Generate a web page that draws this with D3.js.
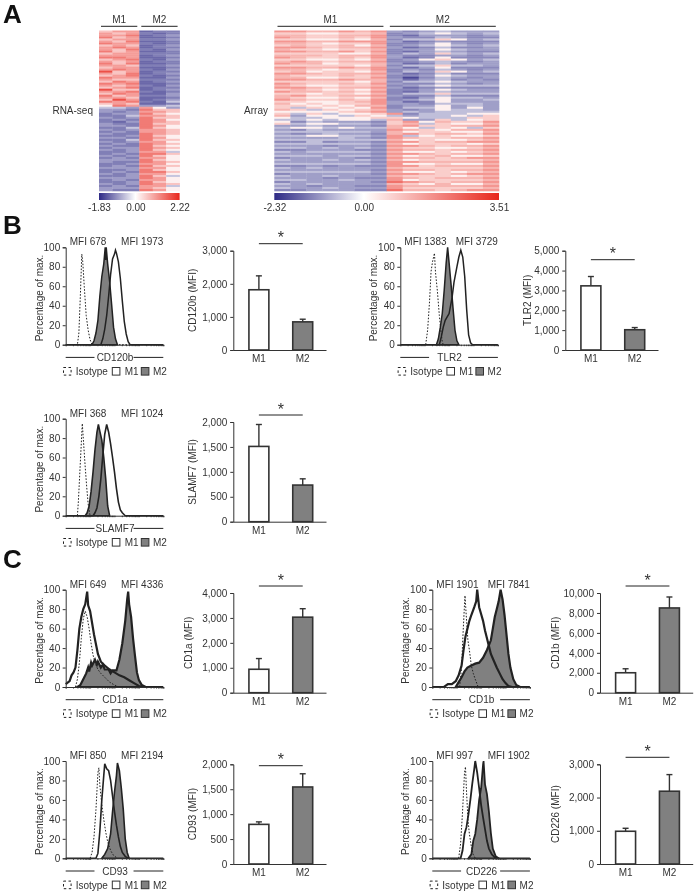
<!DOCTYPE html>
<html>
<head>
<meta charset="utf-8">
<script src="https://cdn.jsdelivr.net/npm/d3@7"></script>
<style>
  body { margin: 0; background: #fff; }
  svg { display: block; filter: blur(0.35px); }
  text { font-family: "Liberation Sans", Arial, sans-serif; font-size: 10px; fill: #333; }
</style>
</head>
<body>
<div class="canvas"></div>
<script>
// heatmap rows, one digit per sample (M1 then M2), digit = index in the levels array
const rnaLevels = [-1.6, -1.3, -1.1, -0.85, -0.5, 0.15, 0.6, 1.0, 1.35, 1.8];
const rnaRows = [
  "677122","767212","778123","867112","677223","768112","877212","676123","787122","768213",
  "867112","677222","777123","887112","678213","767122","868112","776223","677112","787213",
  "967122","768123","678212","877113","766222","687123","878112","767213","678122","966123",
  "778212","687113","867223","776112","697123","878214","676112","587334",
  "443753","332866","323776","233865","224776","323866","232875","213876","322866","332875",
  "224865","323776","232776","322876","223865","332875","224866","323775","232876","322865",
  "233876","323865","223774","232886","323865","232775","333865","322876","223775","232866",
  "333775","223865","232886","323775","223864","333875","232775","223865","323876","232774",
  "333765","322875"
];
const arrayLevels = [-2.0, -1.6, -1.3, -1.05, -0.7, 0.25, 0.8, 1.2, 1.7, 2.3];
const arrayRows = [
  "88778783234333","66556672345434","77667782133323","87667683224322","66556572446534","88778883123222",
  "77656682235323","67667572345434","88767783124223","76656672335433","88778682134322","66665572436434",
  "77767783223323","87667683125222","66556572356534","78767782234323","87756673124233","66666572446443",
  "88778783135222","77656682324323","67566572436534","88767783124222","76667672235433","77556682024323",
  "88778773134232","66666572445433","87667683224323","76556672345444","88767783123222","67656572235433",
  "87767682134333","66566572446444","78667783224222","76556572135443","87667682345334","66556783125333",
  "75656683324443","66565772335343","64656582445353","76465673235443","55556783434444","64645568244455",
  "73554654344546","54455566544466",
  "44545547336456","52433326857668","64554436746557","33433327866778","45545447546546","32433338765778",
  "44444437566557","32343327867768","44554438456556","33334328766778","44444447565567","22423328867788",
  "44444437566656","33323328876778","44343437665567","22333228776778","43444437556567","33333328876778",
  "44434437567556","23333228776788","43343437566667","33333328877778","44444438556557","22323228867778",
  "43433337666667","33333328776778","44444437556567","23333328876788","43343337666567","33323228767778",
  "44334338566667","23333329876778","43433337657557","33233228777778","43343338666667","22333229776788"
];
const rnaScaleTicks = [-1.83, 0, 2.22];
const arrayScaleTicks = [-2.32, 0, 3.51];

// bars
const groups = ['M1', 'M2'];
const cd120bMeans = [1820, 850],  cd120bTops = [2240, 930];
const tlr2Means = [3230, 1020],   tlr2Tops = [3700, 1130];
const slamf7Means = [1510, 735],  slamf7Tops = [1950, 860];
const cd1aMeans = [940, 3030],    cd1aTops = [1370, 3370];
const cd1bMeans = [2000, 8500],   cd1bTops = [2400, 9600];
const cd93Means = [795, 1545],    cd93Tops = [845, 1810];
const cd226Means = [985, 2190],   cd226Tops = [1075, 2690];
const cd120bTicks = [0, 1000, 2000, 3000];
const tlr2Ticks = [0, 1000, 2000, 3000, 4000, 5000];
const slamf7Ticks = [0, 500, 1000, 1500, 2000];
const cd1aTicks = [0, 1000, 2000, 3000, 4000];
const cd1bTicks = [0, 2000, 4000, 6000, 8000, 10000];
const cd93Ticks = [0, 500, 1000, 1500, 2000];
const cd226Ticks = [0, 1000, 2000, 3000];

// histogram traces, [channel, % of max]
const histTicks = [0,7.5,12,15,17.5,19.5,21,22.5,23.8,25,32.5,37,40,42.5,44.5,46,47.5,48.8,50,57.5,62,65,67.5,69.5,71,72.5,73.8,75,82.5,87,90,92.5,94.5,96,97.5,98.8,100];
const percentTicks = [0, 20, 40, 60, 80, 100];

const cd120bIso = [[0,0],[12,0],[13.5,12],[15,50],[16.5,93],[17.5,85],[19,60],[21,30],[23,15],[25,5],[27,0],[100,0]];
const cd120bM2 = [[27,0],[29,4],[31,12],[33,25],[35,50],[37,70],[39,83],[40.5,100],[41,87],[41.5,100],[43,83],[45,65],[47,42],[49,18],[51,6],[53,0]];
const cd120bM1 = [[0,0],[36,0],[38,6],[40,16],[42,30],[44,50],[46,72],[48,88],[50,93],[51,97],[52,94],[54,85],[56,68],[58,45],[60,24],[62,11],[64,3],[66,0],[100,0]];

const tlr2Iso = [[26,0],[28,15],[30,45],[31.5,75],[33,85],[35,94],[36,75],[38,55],[40,30],[41.5,15],[43,3],[44,0]];
const tlr2M2 = [[37,0],[39,6],[41,18],[43,32],[45,56],[47,84],[48.5,100],[50,84],[52,62],[54,38],[56,15],[58,4],[60,0]];
const tlr2M1 = [[0,0],[40,0],[42,8],[44,18],[46,25],[50,32],[53,48],[55,64],[58,80],[60,90],[62,97],[64,90],[66,70],[68,36],[70,10],[72,2],[74,0],[100,0]];

const slamf7Iso = [[12,0],[13,15],[14.5,45],[16,75],[17,95],[18,80],[20,50],[21.5,30],[23,12],[25,0]];
const slamf7M2 = [[20,0],[22,3],[24,10],[26,25],[28,45],[30,68],[32,86],[33.5,94],[35,87],[37,78],[39,60],[41,38],[43,10],[45,0]];
const slamf7M1 = [[0,0],[28,0],[30,3],[32,8],[34,20],[36,38],[38,62],[40,84],[42,94],[44,86],[46,74],[48,60],[50,45],[52,28],[54,14],[56,6],[58,3],[61,0],[100,0]];

const cd1aIso = [[10,0],[12,8],[14,25],[16,50],[18,70],[20,78],[22,72],[24,60],[26,45],[28,33],[30,25],[33,18],[36,14],[40,10],[45,5],[50,2],[55,0]];
const cd1aM2 = [[12,0],[15,2],[18,8],[21,14],[23,20],[24,16],[26,25],[27,22],[30,28],[32,23],[33,26],[36,20],[38,23],[40,18],[44,18],[46,14],[48,17],[52,17],[55,28],[58,45],[61,68],[63,90],[64,98],[65,85],[67,72],[69,50],[71,32],[73,15],[75,7],[78,2],[82,0]];
const cd1aM1 = [[0,3],[4,6],[6,12],[8,15],[10,20],[12,38],[14,60],[16,72],[18,80],[20,85],[22,98],[23,84],[25,78],[27,66],[29,54],[31,44],[33,34],[36,26],[40,22],[45,18],[50,15],[55,12],[60,10],[65,7],[70,4],[75,1],[80,0],[100,0]];

const cd1bIso = [[28,0],[30,20],[31.5,55],[33,85],[33.5,94],[35,70],[36.5,48],[38,38],[40,22],[42,14],[44,8],[47,0]];
const cd1bM2 = [[24,0],[27,5],[30,10],[33,16],[36,20],[40,22],[44,24],[48,25],[52,30],[56,38],[60,48],[62,60],[64,72],[66,80],[68,88],[70,100],[72,90],[74,74],[76,54],[78,34],[80,20],[83,8],[86,2],[90,0]];
const cd1bM1 = [[0,0],[12,0],[16,3],[20,3],[24,6],[27,12],[30,22],[32,38],[34,52],[36,60],[38,68],[40,74],[43,82],[45,88],[46,100],[48,82],[50,75],[52,68],[54,58],[56,50],[58,42],[60,34],[63,27],[66,20],[69,14],[72,8],[75,4],[78,1],[82,0],[100,0]];

const cd93Iso = [[25,0],[27,6],[29,22],[31,50],[33,88],[34,93],[35,75],[37,55],[39,40],[41,27],[43,17],[46,8],[49,3],[53,0]];
const cd93M2 = [[37,0],[40,4],[43,10],[46,25],[48,48],[50,68],[52,85],[53,98],[55,90],[57,72],[59,50],[60,35],[61,20],[63,6],[65,0]];
const cd93M1 = [[0,0],[31,0],[33,5],[35,28],[37,60],[39,85],[40,97],[42,92],[44,90],[46,80],[48,64],[50,48],[52,34],[54,22],[56,12],[58,6],[61,2],[64,0],[100,0]];

const cd226Iso = [[27,0],[29,15],[31,48],[33,88],[34,94],[35,70],[36.5,40],[38,25],[40,12],[42,4],[44,0]];
const cd226M2 = [[37,0],[40,4],[42,18],[44,25],[46,40],[48,60],[50,72],[52,96],[52.5,100],[54,76],[56,66],[58,48],[60,26],[62,10],[65,2],[68,0]];
const cd226M1 = [[0,0],[29,0],[31,8],[33,25],[35,32],[37,45],[39,60],[41,77],[43,92],[44,100],[46,88],[48,72],[50,55],[52,42],[54,30],[56,18],[58,10],[61,4],[65,0],[100,0]];

// panels: hx/hTop/hBottom = histogram axes, bx/bTop/bBottom = bar axes, sigY = bracket line, labelOff = y title offset
const panels = [
  { name: 'CD120b', mfi: [678, 1973], iso: cd120bIso, m1: cd120bM1, m2: cd120bM2, means: cd120bMeans, tops: cd120bTops, ticks: cd120bTicks, hx: 65.7, hTop: 247.3, hBottom: 344.7, bx: 233.3, bTop: 250.7, bBottom: 350, sigY: 243.7, labelOff: 40, lw: 1.5 },
  { name: 'TLR2', mfi: [1383, 3729], iso: tlr2Iso, m1: tlr2M1, m2: tlr2M2, means: tlr2Means, tops: tlr2Tops, ticks: tlr2Ticks, hx: 400.3, hTop: 247.3, hBottom: 344.7, bx: 565.3, bTop: 250.7, bBottom: 350, sigY: 259.7, labelOff: 37.6, lw: 1.5 },
  { name: 'SLAMF7', mfi: [368, 1024], iso: slamf7Iso, m1: slamf7M1, m2: slamf7M2, means: slamf7Means, tops: slamf7Tops, ticks: slamf7Ticks, hx: 65.7, hTop: 418.7, hBottom: 515.7, bx: 233.3, bTop: 422, bBottom: 521.7, sigY: 415, labelOff: 40, lw: 1.6 },
  { name: 'CD1a', mfi: [649, 4336], iso: cd1aIso, m1: cd1aM1, m2: cd1aM2, means: cd1aMeans, tops: cd1aTops, ticks: cd1aTicks, hx: 65.7, hTop: 589.7, hBottom: 687, bx: 233.3, bTop: 593, bBottom: 692.7, sigY: 586, labelOff: 44, lw: 2.2 },
  { name: 'CD1b', mfi: [1901, 7841], iso: cd1bIso, m1: cd1bM1, m2: cd1bM2, means: cd1bMeans, tops: cd1bTops, ticks: cd1bTicks, hx: 432.3, hTop: 589.7, hBottom: 687, bx: 600, bTop: 593, bBottom: 692.7, sigY: 586, labelOff: 44, lw: 2.2 },
  { name: 'CD93', mfi: [850, 2194], iso: cd93Iso, m1: cd93M1, m2: cd93M2, means: cd93Means, tops: cd93Tops, ticks: cd93Ticks, hx: 65.7, hTop: 761, hBottom: 858.3, bx: 233.3, bTop: 764.3, bBottom: 864, sigY: 765.7, labelOff: 40, lw: 1.6 },
  { name: 'CD226', mfi: [997, 1902], iso: cd226Iso, m1: cd226M1, m2: cd226M2, means: cd226Means, tops: cd226Tops, ticks: cd226Ticks, hx: 432.3, hTop: 761, hBottom: 858.3, bx: 600, bTop: 764.3, bBottom: 864, sigY: 757.3, labelOff: 44, lw: 1.8 }
];

const svg = d3.select('.canvas')
    .append('svg')
    .attr('width', 697)
    .attr('height', 894);
const defs = svg.append('defs');

const dark = '#333';
const grey = '#808080';

// panel letters
[['A', 3, 22.5], ['B', 3, 233.5], ['C', 3, 568]].forEach(([t, x, y]) => {
    svg.append('text').text(t).attr('x', x).attr('y', y)
        .style('font-size', '26px').style('font-weight', 'bold').style('fill', '#111');
});

// heatmap with header lines, side label and colour bar
const drawHeatmap = (o) => {
    const cols = d3.range(o.rows[0].length);
    const x = d3.scaleBand().domain(cols).range([o.x0, o.x1]);
    const y = d3.scaleBand().domain(d3.range(o.rows.length)).range([30.5, 191]);
    const scaleDomain = [o.ticks[0], 0, o.ticks[2]];
    const color = d3.scaleLinear().domain(scaleDomain).range(['#2e2a86', '#ffffff', '#e8261c']);

    const g = svg.append('g');
    o.rows.forEach((row, r) => {
        g.selectAll(null)
            .data(cols)
            .enter()
            .append('rect')
            .attr('x', c => x(c))
            .attr('y', y(r))
            .attr('width', x.bandwidth() + 0.3)
            .attr('height', y.bandwidth() + 0.3)
            .attr('fill', c => color(o.levels[+row[c]]));
    });

    // group headers
    const half = cols.length / 2;
    groups.forEach((name, i) => {
        const a = x(i * half) + o.inset;
        const b = x(i * half) + half * x.bandwidth() - o.inset;
        svg.append('line').attr('x1', a).attr('x2', b).attr('y1', 26.3).attr('y2', 26.3)
            .attr('stroke', '#222').attr('stroke-width', 1);
        svg.append('text').text(name).attr('x', (a + b) / 2).attr('y', 23)
            .attr('text-anchor', 'middle');
    });
    svg.append('text').text(o.label).attr('x', o.labelX).attr('y', 113.5).attr('text-anchor', 'end');

    // colour bar
    const bar = d3.scaleLinear().domain(scaleDomain).range([o.x0, o.x0 + (o.x1 - o.x0) * (-o.ticks[0] / (o.ticks[2] - o.ticks[0])), o.x1]);
    const grad = defs.append('linearGradient').attr('id', o.id);
    scaleDomain.forEach(v => {
        grad.append('stop')
            .attr('offset', (bar(v) - o.x0) / (o.x1 - o.x0))
            .attr('stop-color', color(v));
    });
    svg.append('rect').attr('x', o.x0).attr('y', 193).attr('width', o.x1 - o.x0).attr('height', 7)
        .attr('fill', `url(#${o.id})`);
    const axis = d3.axisBottom(bar).tickValues(o.ticks).tickSize(0).tickPadding(4)
        .tickFormat(d3.format('.2f'));
    const ag = svg.append('g').attr('transform', 'translate(0, 200)').call(axis);
    ag.select('.domain').remove();
    ag.selectAll('text').style('font-size', '10px').style('fill', '#333')
        .text(d => d3.format('.2f')(d).replace('−', '-'));
};

drawHeatmap({ id: 'rnaGrad', rows: rnaRows, levels: rnaLevels, ticks: rnaScaleTicks, x0: 99, x1: 179.6, inset: 2, label: 'RNA-seq', labelX: 93 });
drawHeatmap({ id: 'arrayGrad', rows: arrayRows, levels: arrayLevels, ticks: arrayScaleTicks, x0: 274.3, x1: 499, inset: 3.2, label: 'Array', labelX: 268 });

// flow histogram on the left of each panel
const drawHist = (p) => {
    const w = 97.6;
    const x = d3.scaleLinear().domain([0, 100]).range([p.hx, p.hx + w]);
    const y = d3.scaleLinear().domain([0, 100]).range([p.hBottom, p.hTop]);
    const line = d3.line().x(d => x(d[0])).y(d => y(d[1]));
    const area = d3.area().x(d => x(d[0])).y0(y(0)).y1(d => y(d[1]));

    svg.append('path').attr('d', area(p.m2)).attr('fill', grey)
        .attr('stroke', '#222').attr('stroke-width', p.lw);
    svg.append('path').attr('d', line(p.iso)).attr('fill', 'none')
        .attr('stroke', '#222').attr('stroke-width', 1).attr('stroke-dasharray', '1.6 1.6');
    svg.append('path').attr('d', line(p.m1)).attr('fill', 'none')
        .attr('stroke', '#222').attr('stroke-width', p.lw);

    const yAxis = d3.axisLeft(y).tickValues(percentTicks).tickSize(3).tickPadding(2.5);
    const xAxis = d3.axisBottom(x).tickValues(histTicks).tickSize(1.5).tickFormat('');
    const ya = svg.append('g').attr('transform', `translate(${p.hx}, 0)`).call(yAxis);
    const xa = svg.append('g').attr('transform', `translate(0, ${p.hBottom})`).call(xAxis);
    [ya, xa].forEach(a => {
        a.selectAll('.domain, line').attr('stroke', dark);
        a.selectAll('text').style('font-size', '10px').style('fill', '#333');
    });

    svg.append('text').text('Percentage of max.')
        .attr('transform', `translate(${p.hx - 23}, ${(p.hTop + p.hBottom) / 2 + 2}) rotate(-90)`)
        .attr('text-anchor', 'middle');

    // MFI values above the plot
    svg.append('text').text('MFI ' + p.mfi[0]).attr('x', p.hx + 4).attr('y', p.hTop - 2);
    svg.append('text').text('MFI ' + p.mfi[1]).attr('x', p.hx + 55.4).attr('y', p.hTop - 2);

    // marker name with a line either side
    const ly = p.hBottom + 12.7;
    [[0, 0.295], [0.695, 1]].forEach(([a, b]) => {
        svg.append('line').attr('x1', p.hx + a * w).attr('x2', p.hx + b * w).attr('y1', ly).attr('y2', ly)
            .attr('stroke', '#222').attr('stroke-width', 1);
    });
    svg.append('text').text(p.name).attr('x', p.hx + w / 2 + 0.5).attr('y', ly + 3.6).attr('text-anchor', 'middle');

    // legend
    const ky = p.hBottom + 26.6;
    const key = (off, fill, dash) => svg.append('rect')
        .attr('x', p.hx + off).attr('y', ky - 3.8).attr('width', 7.6).attr('height', 7.6)
        .attr('fill', fill).attr('stroke', dash ? '#222' : dark).attr('stroke-width', 1)
        .attr('stroke-dasharray', dash ? '2.5 2.5' : null);
    key(-2.2, '#fff', true);
    key(46.6, '#fff', false);
    key(75.6, grey, false);
    [['Isotype', 10], ['M1', 59], ['M2', 87.3]].forEach(([t, off]) => {
        svg.append('text').text(t).attr('x', p.hx + off).attr('y', ky + 3.6);
    });
};

// bar chart on the right of each panel
const drawBars = (p) => {
    const x = d3.scaleBand().domain(groups).range([p.bx, p.bx + 92.7])
        .paddingInner(0.545).paddingOuter(0.33).align(0.54);
    const y = d3.scaleLinear().domain([0, d3.max(p.ticks)]).range([p.bBottom, p.bTop]);

    const rows = groups.map((g, i) => ({ group: g, mean: p.means[i], top: p.tops[i] }));

    // error bars behind the columns
    const err = svg.append('g').attr('stroke', dark).attr('stroke-width', 1.4);
    err.selectAll('.stem').data(rows).enter().append('line')
        .attr('x1', d => x(d.group) + x.bandwidth() / 2)
        .attr('x2', d => x(d.group) + x.bandwidth() / 2)
        .attr('y1', d => y(d.mean)).attr('y2', d => y(d.top));
    err.selectAll('.cap').data(rows).enter().append('line')
        .attr('x1', d => x(d.group) + x.bandwidth() / 2 - 3)
        .attr('x2', d => x(d.group) + x.bandwidth() / 2 + 3)
        .attr('y1', d => y(d.top)).attr('y2', d => y(d.top));

    svg.selectAll(null).data(rows).enter().append('rect')
        .attr('x', d => x(d.group))
        .attr('y', d => y(d.mean))
        .attr('width', x.bandwidth())
        .attr('height', d => y(0) - y(d.mean))
        .attr('fill', (d, i) => i == 0 ? '#fff' : grey)
        .attr('stroke', dark).attr('stroke-width', 1.6);

    const yAxis = d3.axisLeft(y).tickValues(p.ticks).tickSize(3).tickPadding(3).tickFormat(d3.format(','));
    const xAxis = d3.axisBottom(x).tickSize(0).tickPadding(5);
    const ya = svg.append('g').attr('transform', `translate(${p.bx}, 0)`).call(yAxis);
    const xa = svg.append('g').attr('transform', `translate(0, ${p.bBottom})`).call(xAxis);
    [ya, xa].forEach(a => {
        a.selectAll('.domain, line').attr('stroke', dark);
        a.selectAll('text').style('font-size', '10px').style('fill', '#333');
    });

    svg.append('text').text(p.name + ' (MFI)')
        .attr('transform', `translate(${p.bx - p.labelOff + 3}, ${(p.bTop + p.bBottom) / 2}) rotate(-90)`)
        .attr('text-anchor', 'middle');

    // significance bracket
    const cx = groups.map(g => x(g) + x.bandwidth() / 2);
    svg.append('line').attr('x1', cx[0]).attr('x2', cx[1]).attr('y1', p.sigY).attr('y2', p.sigY)
        .attr('stroke', '#222').attr('stroke-width', 1);
    svg.append('text').text('*').attr('x', (cx[0] + cx[1]) / 2).attr('y', p.sigY - 0.5)
        .attr('text-anchor', 'middle').style('font-size', '16px');
};

panels.forEach(p => {
    drawHist(p);
    drawBars(p);
});
</script>
</body>
</html>
